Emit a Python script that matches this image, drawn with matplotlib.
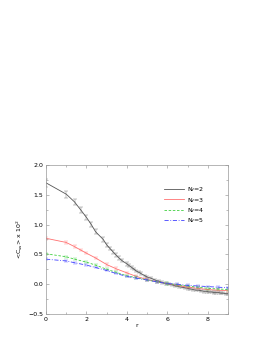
import matplotlib
matplotlib.use("Agg")
import matplotlib.pyplot as plt
from matplotlib.ticker import MultipleLocator

# lattice distances r and correlator values (x 10^2)
r2 = [0, 1, 1.41, 1.73, 2, 2.24, 2.45, 2.83, 3, 3.16, 3.32, 3.46, 3.61, 3.74,
      4, 4.12, 4.24, 4.36, 4.47, 4.58, 4.69, 4.9, 5, 5.2, 5.39, 5.57, 5.74,
      5.92, 6.08, 6.24, 6.4, 6.56, 6.71, 6.86, 7, 7.14, 7.28, 7.42, 7.55,
      7.68, 7.81, 7.94, 8.06, 8.19, 8.31, 8.43, 8.54, 8.66, 8.77, 8.89, 9]
c2 = [1.70, 1.51, 1.38, 1.24, 1.12, 1.00, 0.88, 0.75, 0.66, 0.60, 0.54, 0.49,
      0.44, 0.40, 0.34, 0.31, 0.28, 0.25, 0.22, 0.20, 0.18, 0.14, 0.12, 0.10,
      0.07, 0.05, 0.03, 0.01, 0.00, -0.01, -0.03, -0.04, -0.05, -0.06, -0.07,
      -0.08, -0.09, -0.10, -0.10, -0.11, -0.12, -0.12, -0.13, -0.13, -0.14,
      -0.14, -0.14, -0.15, -0.15, -0.16, -0.16]
e2 = [0.07, 0.06, 0.05, 0.05, 0.04, 0.04, 0.04, 0.04, 0.03, 0.03, 0.03, 0.03,
      0.03, 0.03, 0.03, 0.03, 0.03, 0.02, 0.02, 0.02, 0.02, 0.02, 0.02, 0.02,
      0.02, 0.02, 0.02, 0.02, 0.02, 0.02, 0.02, 0.02, 0.02, 0.02, 0.02, 0.02,
      0.02, 0.02, 0.02, 0.02, 0.02, 0.02, 0.02, 0.02, 0.02, 0.02, 0.02, 0.02,
      0.02, 0.02, 0.02]

r3 = [0, 1, 1.41, 1.73, 2, 2.45, 3, 3.46, 4, 4.47, 5, 5.48, 6, 6.5, 7, 7.5,
      8, 8.5, 9]
c3 = [0.77, 0.70, 0.63, 0.57, 0.52, 0.44, 0.33, 0.26, 0.19, 0.13, 0.08,
      0.04, 0.01, -0.02, -0.05, -0.07, -0.09, -0.10, -0.11]
e3 = [0.03, 0.03, 0.02, 0.02, 0.02, 0.02, 0.02, 0.02, 0.02, 0.02, 0.02,
      0.015, 0.015, 0.015, 0.015, 0.015, 0.015, 0.015, 0.015]

r4 = [0, 1, 1.41, 2, 2.45, 3, 3.46, 4, 4.47, 5, 5.48, 6, 6.5, 7, 7.5, 8,
      8.5, 9]
c4 = [0.51, 0.46, 0.42, 0.37, 0.32, 0.25, 0.20, 0.14, 0.11, 0.07, 0.04,
      0.01, -0.01, -0.03, -0.05, -0.07, -0.08, -0.09]
e4 = [0.02] * len(r4)

r5 = [0, 1, 1.41, 2, 2.45, 3, 3.46, 4, 4.47, 5, 5.48, 6, 6.5, 7, 7.5, 8,
      8.5, 9]
c5 = [0.42, 0.39, 0.36, 0.32, 0.28, 0.23, 0.18, 0.13, 0.10, 0.07, 0.04,
      0.01, 0.00, -0.02, -0.03, -0.04, -0.05, -0.06]
e5 = [0.015] * len(r5)

series = [
    (r2, c2, e2, "#555555", "-", "N$_f$=2"),
    (r3, c3, e3, "#ff7070", "-", "N$_f$=3"),
    (r4, c4, e4, "#40d040", (0, (3, 2)), "N$_f$=4"),
    (r5, c5, e5, "#4040ff", (0, (5, 2, 1, 2)), "N$_f$=5"),
]

fig = plt.figure(figsize=(2.74, 3.54), dpi=100)
ax = fig.add_axes([0.168, 0.113, 0.664, 0.421])

for r, c, e, col, ls, lab in series:
    ax.errorbar(r, c, yerr=e, color=col, linestyle="none", elinewidth=0.35,
                capsize=1.2, capthick=0.35, alpha=0.7)
    ax.plot(r, c, color=col, linestyle=ls, linewidth=0.6, label=lab)

ax.set_xlim(0, 9)
ax.set_ylim(-0.5, 2.0)
ax.xaxis.set_major_locator(MultipleLocator(2))
ax.xaxis.set_minor_locator(MultipleLocator(1))
ax.yaxis.set_major_locator(MultipleLocator(0.5))
ax.yaxis.set_minor_locator(MultipleLocator(0.25))
ax.tick_params(which="both", direction="in", top=True, right=True,
               labelsize=4.5, width=0.4, color="#888888", pad=2)
ax.tick_params(which="major", length=2.5)
ax.tick_params(which="minor", length=1.5)
for sp in ax.spines.values():
    sp.set_linewidth(0.5)
    sp.set_color("#999999")

ax.set_xlabel("r", fontsize=4.5, labelpad=1)
ax.set_ylabel("<C$_{ss}$> x 10$^2$", fontsize=4.5, labelpad=2)

ax.legend(loc="upper right", bbox_to_anchor=(0.9, 0.9), frameon=False,
          fontsize=4.5, handlelength=3.2, labelspacing=0.2,
          handletextpad=0.5)

fig.savefig("out.png", dpi=100)
